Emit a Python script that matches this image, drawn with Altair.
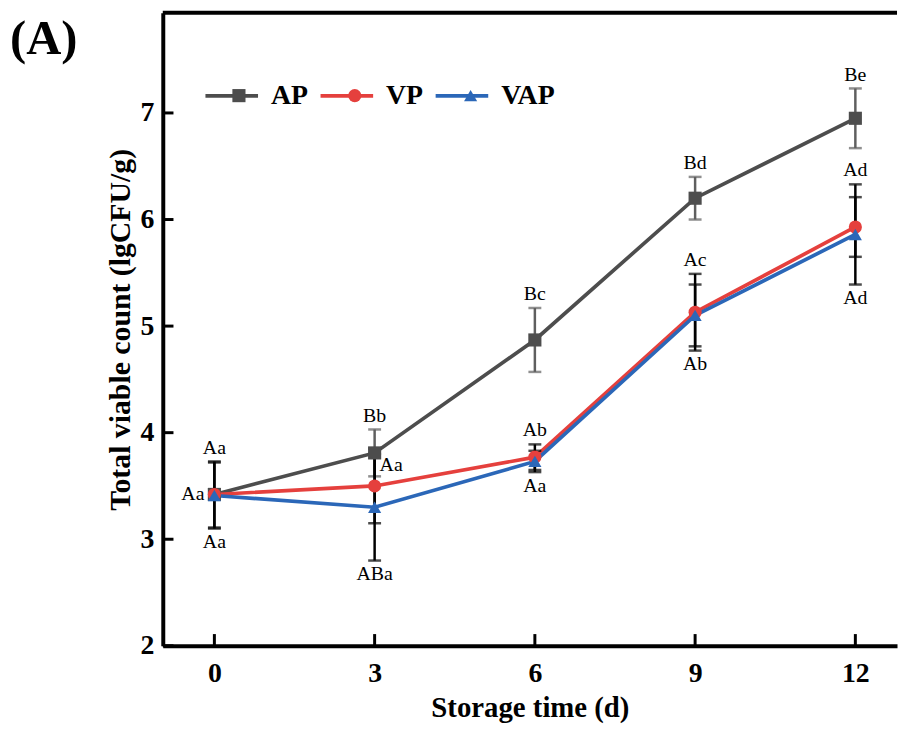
import altair as alt
import pandas as pd

# ---------------- data ----------------
days = [0, 3, 6, 9, 12]
series_names = ["AP", "VP", "VAP"]
ap_mean = [3.42, 3.81, 4.87, 6.20, 6.95]
ap_sd = [0.05, 0.22, 0.30, 0.20, 0.28]
vp_mean = [3.42, 3.50, 3.77, 5.13, 5.93]
vp_sd = [0.31, 0.35, 0.12, 0.36, 0.28]
vap_mean = [3.41, 3.30, 3.73, 5.10, 5.86]
vap_sd = [0.31, 0.50, 0.10, 0.29, 0.47]

y_ticks = [2, 3, 4, 5, 6, 7]

label_day = [0, 0, 0, 3, 3, 3, 6, 6, 6, 9, 9, 9, 12, 12, 12]
label_text = ["Aa", "Aa", "Aa", "Bb", "Aa", "ABa", "Bc", "Ab", "Aa",
              "Bd", "Ac", "Ab", "Be", "Ad", "Ad"]
label_series = ["VP", "AP", "VAP", "AP", "AP", "VAP", "AP", "VP", "VAP",
                "AP", "VP", "VP", "AP", "VAP", "VAP"]
label_side = ["above", "left", "below", "above", "right", "below",
              "above", "above", "below", "above", "above", "below",
              "above", "above", "below"]

colors = ["#4d4d4d", "#e5403d", "#2b67b8"]
marker_shapes = ["square", "circle", "triangle-up"]
ap_err_color = "#5f5f5f"

means = {"AP": ap_mean, "VP": vp_mean, "VAP": vap_mean}
sds = {"AP": ap_sd, "VP": vp_sd, "VAP": vap_sd}

ZW = "\u200b"  # marker scale gets its own domain so its legend stays separate
marker_names = [s + ZW for s in series_names]

rows = []
for s in series_names:
    for d, m, e in zip(days, means[s], sds[s]):
        rows.append({"day": d, "series": s, "mk": s + ZW, "mean": m, "lo": m - e, "hi": m + e})
df = pd.DataFrame(rows)

lab_rows = []
for d, t, s, side in zip(label_day, label_text, label_series, label_side):
    r = df[(df.day == d) & (df.series == s)].iloc[0]
    yv = r["hi"] if side == "above" else (r["lo"] if side == "below" else r["mean"])
    lab_rows.append({"day": d, "text": t, "y": yv, "side": side})
labels_df = pd.DataFrame(lab_rows)

# ---------------- scales ----------------
x_min, x_max = -0.966, 12.78
y_min, y_max = 2.0, 7.94
x_scale = alt.Scale(domain=[x_min, x_max], nice=False, zero=False)
y_scale = alt.Scale(domain=[y_min, y_max], nice=False, zero=False)
color_scale = alt.Scale(domain=series_names, range=colors)

SERIF = "Liberation Serif"

x_axis = alt.Axis(values=days, title="Storage time (d)", orient="bottom", labelFont=SERIF,
                  labelFontSize=28, labelFontWeight="bold", labelColor="black",
                  titleFont=SERIF, titleFontSize=29, titleFontWeight="bold",
                  titleColor="black", ticks=False, tickSize=0, grid=False,
                  domainWidth=4, domainColor="black", labelPadding=14,
                  titlePadding=6, labelAngle=0)
y_axis = alt.Axis(values=y_ticks, format="d", title="Total viable count (lgCFU/g)", orient="left",
                  labelFont=SERIF, labelFontSize=28, labelFontWeight="bold",
                  labelColor="black", titleFont=SERIF, titleFontSize=30,
                  titleFontWeight="bold", titleColor="black", ticks=False,
                  tickSize=0, grid=False, domainWidth=4, domainColor="black",
                  labelPadding=9, titlePadding=5)


def XQ(field):
    return alt.X(field, type="quantitative", scale=x_scale, axis=x_axis)


def YQ(field):
    return alt.Y(field, type="quantitative", scale=y_scale, axis=y_axis)


X = XQ("day")
Y = YQ("mean")

# ---------------- legends ----------------
# Legend 1: line samples + labels (line layer colour scale).
# Legend 2: markers (point layer fill/shape scales) laid over legend 1, labels invisible.
LEG_X, LEG_Y = 41, 55
line_sym = 2809      # legend line length ~53 px
line_sw = 3.7
mark_sym = 175
lab_off = 11
col_pad = 4
dx2 = 21.75          # horizontal shift that centres markers on the line samples
dl2 = 14.5           # extra label offset so the hidden labels sit on the visible ones
common_leg = dict(orient="none", direction="horizontal", title=None,
                  labelFont=SERIF, labelFontSize=28, labelFontWeight="bold", labelLimit=300)
leg_lines = alt.Legend(legendX=LEG_X, legendY=LEG_Y, labelColor="black", labelOffset=lab_off,
                       columnPadding=col_pad, symbolType="stroke", symbolSize=line_sym,
                       symbolStrokeWidth=line_sw, **common_leg)
leg_marks = alt.Legend(legendX=LEG_X + dx2, legendY=LEG_Y + 14.5, labelColor="transparent",
                       labelOffset=lab_off + dl2, columnPadding=col_pad + dx2,
                       symbolSize=mark_sym, symbolStrokeWidth=0, **common_leg)

base = alt.Chart(df)


def err_layers(data_filter, color):
    b = base.transform_filter(data_filter)
    rule = b.mark_rule(color=color, strokeWidth=2.5).encode(
        x=X, y=YQ("lo"), y2="hi:Q")
    caps = b.transform_fold(["lo", "hi"], as_=["k", "v"]).mark_tick(
        color=color, orient="horizontal", size=13, thickness=2.5).encode(
        x=X, y=YQ("v"))
    return [rule, caps]


lines = base.mark_line(strokeWidth=line_sw).encode(
    x=X, y=Y, color=alt.Color("series:N", scale=color_scale, legend=leg_lines))

points = base.mark_point(filled=True, opacity=1, size=mark_sym, strokeWidth=0).encode(
    x=X, y=Y,
    fill=alt.Fill("mk:N", scale=alt.Scale(domain=marker_names, range=colors), legend=leg_marks),
    shape=alt.Shape("mk:N", scale=alt.Scale(domain=marker_names, range=marker_shapes), legend=leg_marks))

# labels
lab_base = alt.Chart(labels_df)
LX = XQ("day")
LY = YQ("y")
txt = dict(font=SERIF, fontSize=20, color="black", baseline="middle")
lab_above = lab_base.transform_filter(alt.datum.side == "above").mark_text(dy=-14, **txt).encode(x=LX, y=LY, text="text:N")
lab_below = lab_base.transform_filter(alt.datum.side == "below").mark_text(dy=14, **txt).encode(x=LX, y=LY, text="text:N")
lab_left = lab_base.transform_filter(alt.datum.side == "left").mark_text(align="right", dx=-10, **txt).encode(x=LX, y=LY, text="text:N")
lab_right = lab_base.transform_filter(alt.datum.side == "right").mark_text(align="left", dx=5, dy=12, **txt).encode(x=LX, y=LY, text="text:N")

# inward ticks and top frame
xt = alt.Chart(pd.DataFrame({"day": days, "y0": [y_min] * len(days), "y1": [y_min + 0.11] * len(days)})).mark_rule(
    color="black", strokeWidth=3).encode(x=XQ("day"), y=YQ("y0"), y2="y1:Q")
yt = alt.Chart(pd.DataFrame({"v": y_ticks, "x0": [x_min] * len(y_ticks), "x1": [x_min + 0.2] * len(y_ticks)})).mark_rule(
    color="black", strokeWidth=3).encode(y=YQ("v"), x=XQ("x0"), x2="x1:Q")
top = alt.Chart(pd.DataFrame({"x0": [x_min], "x1": [x_max], "y": [y_max]})).mark_rule(
    color="black", strokeWidth=4).encode(x=XQ("x0"), x2="x1:Q", y=YQ("y"))

panel = alt.Chart(pd.DataFrame({"t": ["(A)"]})).mark_text(
    align="left", baseline="middle", font=SERIF, fontSize=49, fontWeight="bold", color="black").encode(
    x=alt.value(-154), y=alt.value(27), text="t:N")

layers = []
layers += err_layers(alt.datum.series == "AP", ap_err_color)
layers += [lines]
layers += err_layers(alt.datum.series != "AP", "black")
layers += [points]
layers += [lab_above, lab_below, lab_left, lab_right, xt, yt, top, panel]

chart = alt.layer(*layers).properties(
    width=740, height=638,
    padding={"left": 2, "top": 0, "right": 0, "bottom": 0},
).configure_view(strokeWidth=0, stroke="transparent")

chart.save("out.html", embed_options={"renderer": "svg", "actions": False})
